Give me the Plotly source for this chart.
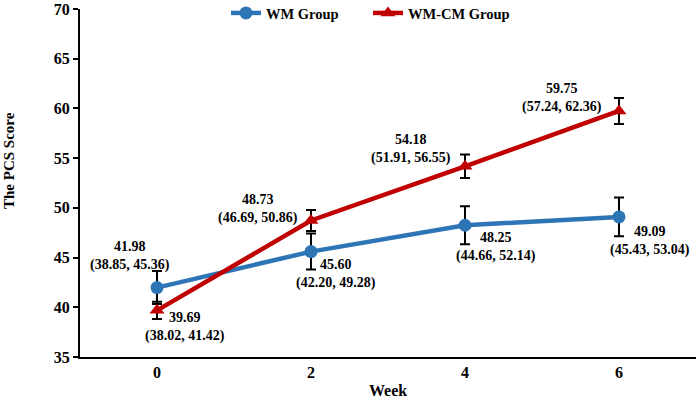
import plotly.graph_objects as go

weeks = ["0", "2", "4", "6"]
wm_mean = [41.98, 45.60, 48.25, 49.09]
wm_lo = [38.85, 42.20, 44.66, 45.43]
wm_hi = [45.36, 49.28, 52.14, 53.04]
wm_err = [1.66, 1.81, 1.91, 1.94]

cm_mean = [39.69, 48.73, 54.18, 59.75]
cm_lo = [38.02, 46.69, 51.91, 57.24]
cm_hi = [41.42, 50.86, 56.55, 62.36]
cm_err = [0.87, 1.06, 1.18, 1.31]

FONT = "Liberation Serif"
BLUE = "#2E75B6"
RED = "#C00000"

fig = go.Figure()
fig.add_trace(go.Scatter(
    x=weeks, y=wm_mean, name="WM Group", mode="lines+markers",
    line=dict(color=BLUE, width=4.5),
    marker=dict(symbol="circle", size=13, color=BLUE),
    error_y=dict(type="data", array=wm_err, color="black", thickness=2, width=5),
))
fig.add_trace(go.Scatter(
    x=weeks, y=cm_mean, name="WM-CM Group", mode="lines+markers",
    line=dict(color=RED, width=4.5),
    marker=dict(symbol="triangle-up", size=13, color=RED),
    error_y=dict(type="data", array=cm_err, color="black", thickness=2, width=5),
))

# label offsets in pixels (x, y) for each point
wm_off = [(-27, 32), (25, -22), (31, -22), (31, -24)]
cm_off = [(28, -17), (-53, 11), (-54, 17), (-57, 13)]

annotations = []
for i, w in enumerate(weeks):
    for mean, lo, hi, off in ((wm_mean[i], wm_lo[i], wm_hi[i], wm_off[i]),
                              (cm_mean[i], cm_lo[i], cm_hi[i], cm_off[i])):
        annotations.append(dict(
            x=i, y=mean, xref="x", yref="y",
            text=f"{mean:.2f}<br>({lo:.2f}, {hi:.2f})",
            showarrow=False, align="center", xanchor="center", yanchor="middle",
            xshift=off[0], yshift=off[1],
            font=dict(family=FONT, size=14, color="black", weight="bold"),
        ))

annotations.append(dict(
    x=-0.1153, y=0.566, xref="paper", yref="paper", text="The PCS Score",
    textangle=-90, showarrow=False, xanchor="center", yanchor="middle",
    font=dict(family=FONT, size=15, color="black", weight="bold"),
))
annotations.append(dict(
    x=0.5, y=-0.097, xref="paper", yref="paper", text="Week",
    showarrow=False, xanchor="center", yanchor="middle",
    font=dict(family=FONT, size=16, color="black", weight="bold"),
))

fig.update_layout(
    width=699, height=398,
    margin=dict(l=80, r=3, t=9, b=41, autoexpand=False),
    plot_bgcolor="white", paper_bgcolor="white",
    font=dict(family=FONT, size=15, color="black", weight="bold"),
    showlegend=True,
    legend=dict(
        orientation="h", x=0.2370, xanchor="left", y=0.9885, yanchor="middle",
        font=dict(family=FONT, size=14.5, color="black", weight="bold"),
        bgcolor="rgba(0,0,0,0)", entrywidth=97, entrywidthmode="pixels",
    ),
    annotations=annotations,
    xaxis=dict(
        type="category", categoryorder="array", categoryarray=weeks,
        range=[-0.5, 3.5], showgrid=False, zeroline=False, automargin=False,
        showline=True, linecolor="black", linewidth=2, ticks="",
        tickfont=dict(family=FONT, size=16, color="black", weight="bold"),
    ),
    yaxis=dict(
        range=[35, 70], dtick=5, showgrid=False, zeroline=False, automargin=False,
        showline=True, linecolor="black", linewidth=2,
        ticks="outside", ticklen=5, tickwidth=2, tickcolor="black",
        tickfont=dict(family=FONT, size=16, color="black", weight="bold"),
    ),
)

fig.write_html(
    "out.html",
    config={"displayModeBar": False},
    post_script="document.body.style.margin='0';document.body.style.overflow='hidden';",
)
